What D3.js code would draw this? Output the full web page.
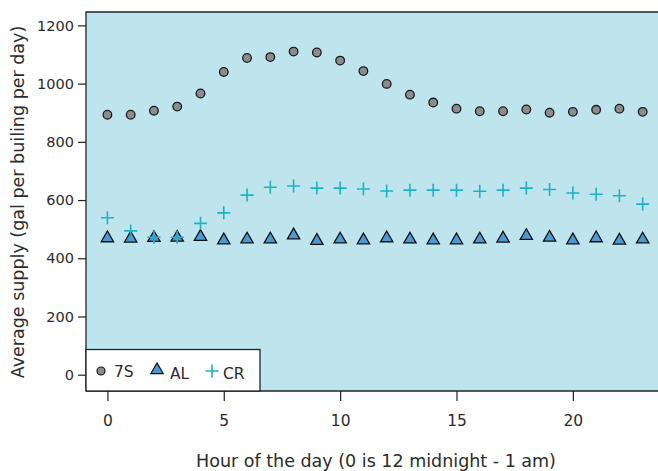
<!DOCTYPE html>
<html>
<head>
<meta charset="utf-8">
<script src="https://cdn.jsdelivr.net/npm/d3@7"></script>
<style>
  body { margin: 0; background: #fff; }
  text { font-family: "DejaVu Sans", sans-serif; }
</style>
</head>
<body>
<div id="vis"></div>
<script>
const hours = d3.range(0, 24);
const s7S = [893, 893, 907, 921, 966, 1040, 1088, 1091, 1110, 1107, 1079, 1043,
             999, 962, 935, 914, 905, 905, 911, 900, 903, 910, 914, 903];
const sAL = [469, 468, 470, 471, 474, 462, 465, 465, 479, 460, 465, 462,
             469, 465, 462, 462, 465, 468, 477, 471, 462, 469, 461, 465];
const sCR = [539, 494, 472, 472, 520, 556, 617, 644, 648, 641, 641, 638,
             631, 634, 634, 634, 630, 634, 641, 636, 624, 620, 615, 586];
const xTicks = [0, 5, 10, 15, 20];
const yTicks = [0, 200, 400, 600, 800, 1000, 1200];

const FRAME_WIDTH = 658;
const FRAME_HEIGHT = 471;
const MARGINS = {left: 86, right: -4, top: 12, bottom: 80};
const TEXT = "#2b2b2b";

const svg = d3.select("#vis")
  .append("svg")
    .attr("width", FRAME_WIDTH)
    .attr("height", FRAME_HEIGHT);

const xScale = d3.scaleLinear()
  .domain([-0.92, 23.83])
  .range([MARGINS.left, FRAME_WIDTH - MARGINS.right]);

const yScale = d3.scaleLinear()
  .domain([-56, 1246])
  .range([FRAME_HEIGHT - MARGINS.bottom, MARGINS.top]);

const x0 = MARGINS.left, x1 = FRAME_WIDTH - MARGINS.right;
const y0 = MARGINS.top, y1 = FRAME_HEIGHT - MARGINS.bottom;

// background
svg.append("rect")
  .attr("x", x0).attr("y", y0)
  .attr("width", x1 - x0).attr("height", y1 - y0)
  .attr("fill", "#bee4ed");

// frame lines
svg.append("path")
  .attr("d", `M${x0},${y1}V${y0}H${x1}M${x0},${y1}H${x1}`)
  .attr("fill", "none").attr("stroke", "#222").attr("stroke-width", 1.3);

// axes
const xAxis = svg.append("g")
  .attr("transform", `translate(0,${y1})`)
  .call(d3.axisBottom(xScale).tickValues(xTicks).tickSize(10).tickPadding(14));
const yAxis = svg.append("g")
  .attr("transform", `translate(${x0},0)`)
  .call(d3.axisLeft(yScale).tickValues(yTicks).tickFormat(d3.format("d"))
    .tickSize(8).tickPadding(4));
[xAxis, yAxis].forEach(g => {
  g.select(".domain").remove();
  g.selectAll("line").attr("stroke", "#222").attr("stroke-width", 1.2);
  g.selectAll("text").attr("font-size", 14.5).attr("fill", TEXT)
    .style("font-family", "DejaVu Sans");
});
xAxis.selectAll("text").attr("font-size", 15.5);

// points
svg.append("g").selectAll("circle")
  .data(hours)
  .enter()
  .append("circle")
    .attr("cx", d => xScale(d))
    .attr("cy", d => yScale(s7S[d]))
    .attr("r", 4.3)
    .attr("fill", "#8c8c8c")
    .attr("stroke", "#1a1a1a")
    .attr("stroke-width", 1.3);

const tri = d3.symbol().type(d3.symbolTriangle).size(66);
svg.append("g").selectAll("path")
  .data(hours)
  .enter()
  .append("path")
    .attr("d", tri)
    .attr("transform", d => `translate(${xScale(d)},${yScale(sAL[d])})`)
    .attr("fill", "#4b9ad3")
    .attr("stroke", "#111")
    .attr("stroke-width", 1.3);

const plus = (cx, cy, h) => `M${cx - h},${cy}H${cx + h}M${cx},${cy - h}V${cy + h}`;
svg.append("g").selectAll("path")
  .data(hours)
  .enter()
  .append("path")
    .attr("d", d => plus(xScale(d), yScale(sCR[d]), 6.5))
    .attr("stroke", "#1cb2c3")
    .attr("stroke-width", 1.6)
    .attr("fill", "none");

// legend
const leg = svg.append("g");
leg.append("rect")
  .attr("x", x0).attr("y", 349.5)
  .attr("width", 174).attr("height", y1 - 349.5)
  .attr("fill", "#fff").attr("stroke", "#222").attr("stroke-width", 1.3);
leg.append("circle").attr("cx", 101).attr("cy", 371).attr("r", 4)
  .attr("fill", "#8c8c8c").attr("stroke", "#1a1a1a").attr("stroke-width", 1.2);
leg.append("text").attr("x", 114).attr("y", 377).text("7S");
leg.append("path").attr("d", tri).attr("transform", "translate(157,370)")
  .attr("fill", "#4b9ad3").attr("stroke", "#111").attr("stroke-width", 1.2);
leg.append("text").attr("x", 170).attr("y", 379).text("AL");
leg.append("path").attr("d", plus(212, 371, 6.5))
  .attr("stroke", "#1cb2c3").attr("stroke-width", 1.6);
leg.append("text").attr("x", 223).attr("y", 379).text("CR");
leg.selectAll("text").attr("fill", TEXT).attr("font-size", 15.5);

// titles
svg.append("text")
  .attr("x", 376).attr("y", 467)
  .attr("text-anchor", "middle").attr("font-size", 17.5).attr("fill", TEXT)
  .text("Hour of the day (0 is 12 midnight - 1 am)");
svg.append("text")
  .attr("transform", "translate(24,202) rotate(-90)")
  .attr("text-anchor", "middle").attr("font-size", 17.5).attr("fill", TEXT)
  .text("Average supply (gal per builing per day)");
</script>
</body>
</html>
